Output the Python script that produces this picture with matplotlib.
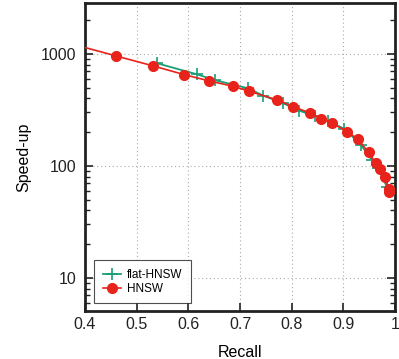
import matplotlib
matplotlib.use("Agg")
import matplotlib.pyplot as plt
from matplotlib.ticker import LogLocator, NullFormatter, FixedLocator

plt.rcParams['font.family'] = ['Liberation Sans', 'DejaVu Sans']

# HNSW (first point lies left of the visible range, the line runs off the axis)
hnsw_recall = [0.38, 0.460, 0.532, 0.592, 0.640, 0.686, 0.717, 0.772, 0.803,
               0.836, 0.857, 0.878, 0.908, 0.928, 0.949, 0.963, 0.970, 0.981,
               0.988, 0.989]
hnsw_speedup = [1208, 960, 781, 653, 574, 515, 465, 388, 338,
                296, 264, 240, 202, 173, 132, 105, 93.5, 80,
                62.3, 57.8]

flat_recall = [0.539, 0.616, 0.652, 0.715, 0.745, 0.783, 0.814, 0.845,
               0.871, 0.902, 0.934, 0.955, 0.967, 0.984]
flat_speedup = [826, 659, 582, 494, 424, 363, 312, 279,
                251, 214, 154, 113, 96, 65.3]

red = '#e8231b'
green = '#1a9e77'

fig = plt.figure(figsize=(3.99, 3.59), dpi=100)
ax = fig.add_axes([85 / 399, 48 / 359, 310 / 399, 308 / 359])

ax.plot(flat_recall, flat_speedup, color=green, lw=1.3, marker='+', ms=8,
        mew=1.2, label='flat-HNSW', zorder=2)
ax.plot(hnsw_recall, hnsw_speedup, color=red, lw=1.2, marker='o', ms=7,
        label='HNSW', zorder=3)

ax.set_yscale('log')
ax.set_xlim(0.4, 1.0)
ax.set_ylim(5.05, 2850)

ax.xaxis.set_major_locator(FixedLocator([0.4, 0.5, 0.6, 0.7, 0.8, 0.9, 1.0]))
ax.set_xticklabels(['0.4', '0.5', '0.6', '0.7', '0.8', '0.9', '1'])
ax.yaxis.set_major_locator(FixedLocator([10, 100, 1000]))
ax.set_yticklabels(['10', '100', '1000'])
ax.yaxis.set_minor_locator(LogLocator(base=10, subs=range(2, 10)))
ax.yaxis.set_minor_formatter(NullFormatter())

ax.tick_params(axis='both', which='major', direction='in', length=6,
               width=1.2, labelsize=11.5, colors='#222222', pad=4)
ax.tick_params(axis='y', which='major', right=True, pad=6)
ax.tick_params(axis='y', which='minor', direction='in', length=3.5,
               width=1, right=True, colors='#222222')
ax.tick_params(axis='x', which='major', top=False)

ax.grid(True, which='major', color='#aaaaaa', linestyle=(0, (1, 2.5)), lw=0.8)
ax.set_axisbelow(True)

for s in ax.spines.values():
    s.set_linewidth(2)
    s.set_color('#222222')

ax.set_xlabel('Recall', fontsize=11.5, labelpad=10)
ax.set_ylabel('Speed-up', fontsize=11.5, labelpad=7)

leg = ax.legend(loc='lower left', bbox_to_anchor=(0.03, 0.025), fontsize=8.5,
                frameon=True, fancybox=False, handlelength=1.6,
                borderpad=0.7, labelspacing=0.2, handletextpad=0.5,
                borderaxespad=0)
leg.get_frame().set_edgecolor('#222222')
leg.get_frame().set_linewidth(0.8)

fig.savefig('out.png', dpi=100)
